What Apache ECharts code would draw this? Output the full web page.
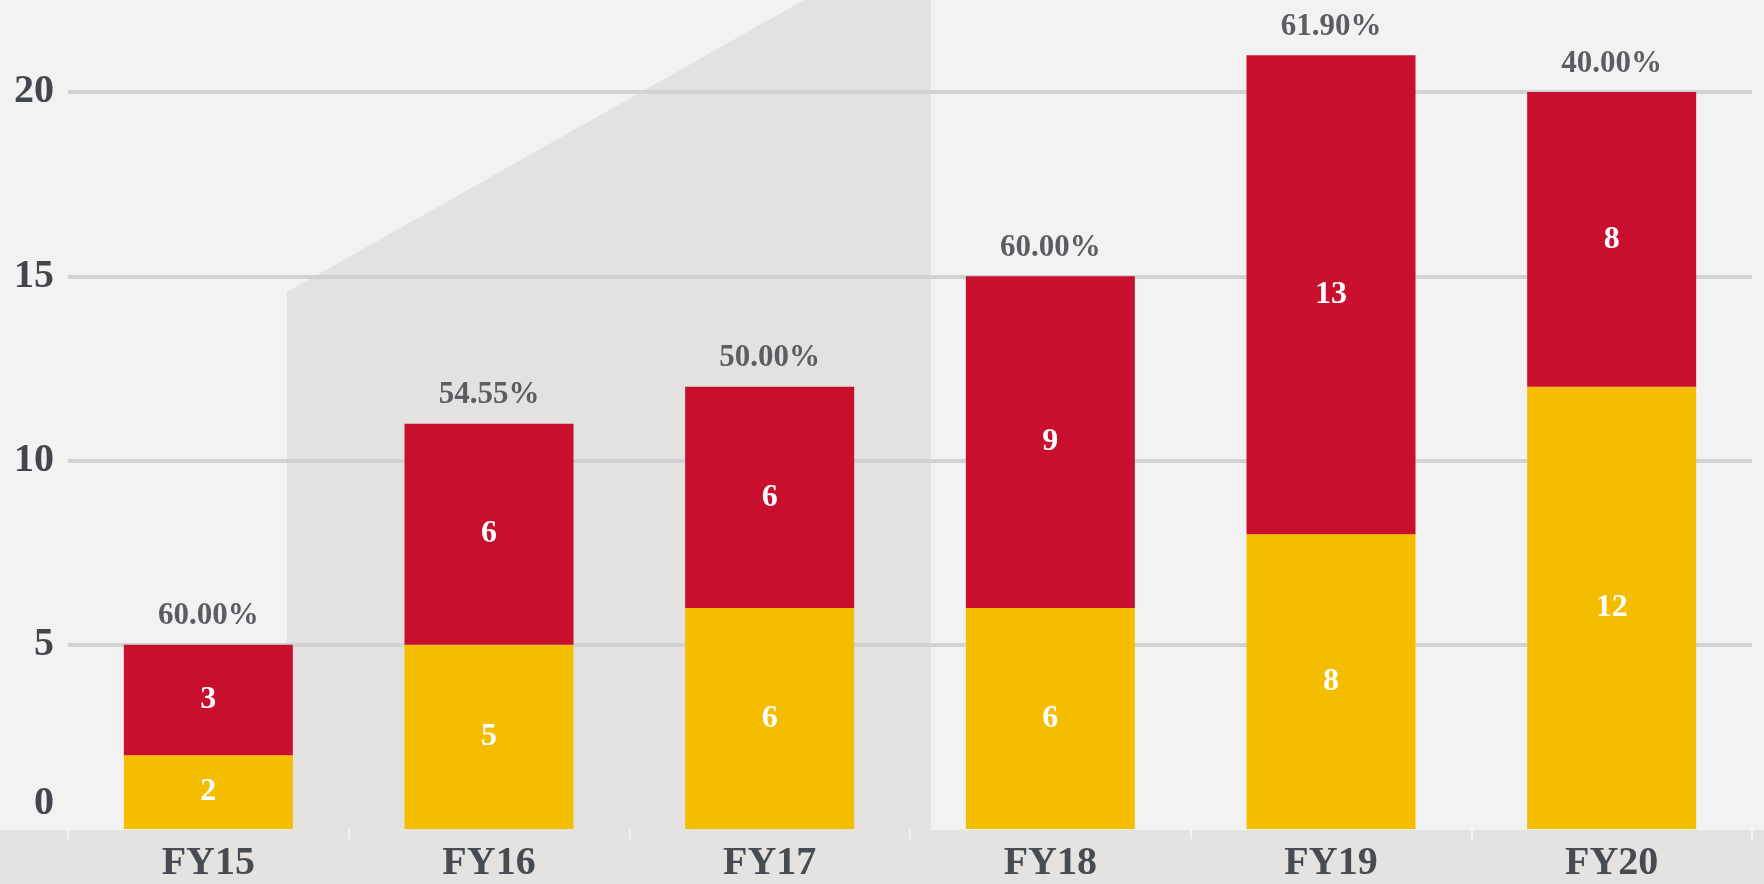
<!DOCTYPE html>
<html>
<head>
<meta charset="utf-8">
<script src="https://cdn.jsdelivr.net/npm/echarts@6/dist/echarts.min.js"></script>
<style>
  html, body { margin: 0; padding: 0; background: #f3f2f3; }
  #chart { width: 1764px; height: 884px; }
</style>
</head>
<body>
<div id="chart"></div>
<script>
// Fiscal years and the two stacked components
const categories = ['FY15', 'FY16', 'FY17', 'FY18', 'FY19', 'FY20'];
const yellowValues = [2, 5, 6, 6, 8, 12];
const redValues = [3, 6, 6, 9, 13, 8];
const yTickValues = [0, 5, 10, 15, 20];

// Stack totals and the red share printed above each stack
const totals = categories.map((_, i) => yellowValues[i] + redValues[i]);
const redShare = categories.map((_, i) => (redValues[i] / totals[i] * 100).toFixed(2) + '%');

const SERIF = '"Liberation Serif", "Times New Roman", serif';
const chart = echarts.init(document.getElementById('chart'), null, { renderer: 'canvas' });

chart.setOption({
  backgroundColor: '#f3f2f3',
  animation: false,
  graphic: {
    elements: [
      {
        // decorative slanted panel behind the chart
        type: 'polygon',
        z: -10,
        shape: { points: [[287, 830], [287, 292], [804, 0], [931, 0], [931, 830]] },
        style: { fill: '#e3e2e1' },
        silent: true
      },
      {
        // band behind the category labels
        type: 'rect',
        z: -10,
        shape: { x: 0, y: 830, width: 1764, height: 54 },
        style: { fill: '#e5e3e2' },
        silent: true
      }
    ]
  },
  grid: { left: 68, right: 12, top: 92, bottom: 54, containLabel: false },
  xAxis: {
    type: 'category',
    data: categories,
    axisLine: { show: false },
    axisTick: { show: true, alignWithLabel: false, length: 10, lineStyle: { color: 'rgba(255,255,255,0.75)', width: 1.5 } },
    axisLabel: {
      margin: 15,
      fontSize: 40,
      fontWeight: 'bold',
      fontFamily: SERIF,
      color: '#474c53'
    }
  },
  yAxis: {
    type: 'value',
    min: yTickValues[0],
    max: yTickValues[yTickValues.length - 1],
    interval: yTickValues[1] - yTickValues[0],
    axisLine: { show: false },
    axisTick: { show: false },
    splitLine: { show: true, showMinLine: false, lineStyle: { color: '#d3d2d3', width: 4 } },
    axisLabel: {
      margin: 14,
      fontSize: 40,
      fontWeight: 'bold',
      fontFamily: SERIF,
      color: '#43474d',
      // the zero label sits above the band rather than on the baseline
      formatter: v => (v === 0 ? '{zero|0}' : String(v)),
      rich: {
        zero: {
          fontSize: 40,
          fontWeight: 'bold',
          fontFamily: SERIF,
          color: '#43474d',
          padding: [0, 0, 50, 0]
        }
      }
    }
  },
  series: [
    {
      name: 'Yellow',
      type: 'bar',
      stack: 'fy',
      barWidth: 169,
      barGap: '-100%',
      clip: false,
      data: yellowValues,
      itemStyle: { color: '#f5bd00' },
      label: {
        show: true,
        position: 'inside',
        color: '#ffffff',
        fontSize: 32,
        fontWeight: 'bold',
        fontFamily: SERIF
      }
    },
    {
      name: 'Red',
      type: 'bar',
      stack: 'fy',
      barWidth: 169,
      barGap: '-100%',
      clip: false,
      data: redValues,
      itemStyle: { color: '#c8102e' },
      label: {
        show: true,
        position: 'inside',
        color: '#ffffff',
        fontSize: 32,
        fontWeight: 'bold',
        fontFamily: SERIF
      }
    },
    {
      name: 'Share',
      type: 'bar',
      barWidth: 169,
      barGap: '-100%',
      clip: false,
      silent: true,
      z: 1,
      data: totals,
      itemStyle: { color: 'rgba(0,0,0,0)' },
      label: {
        show: true,
        position: 'top',
        distance: 13,
        color: '#5a5d61',
        fontSize: 31,
        fontWeight: 'bold',
        fontFamily: SERIF,
        formatter: p => redShare[p.dataIndex]
      }
    }
  ]
});
</script>
</body>
</html>
